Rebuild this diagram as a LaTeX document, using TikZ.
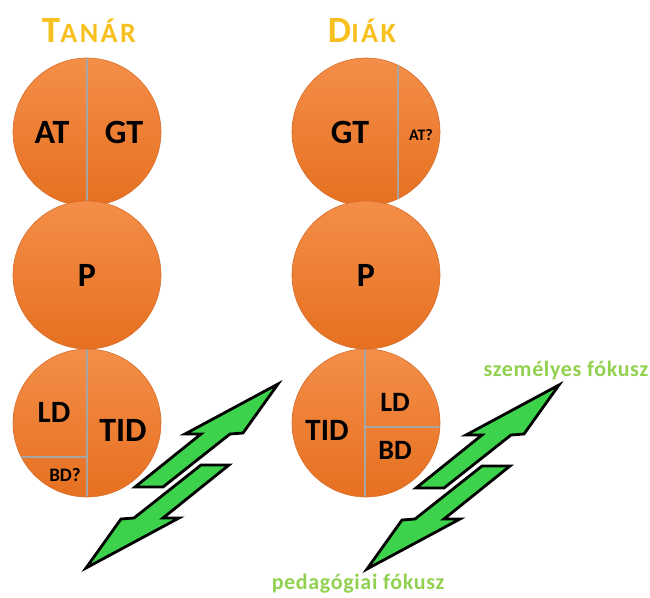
\documentclass[tikz,border=0pt]{standalone}
\usepackage{fontspec}
\setmainfont{Carlito}
\newfontfamily\titlefont[LetterSpace=9]{Carlito}
\newfontfamily\focusfont[LetterSpace=3]{Carlito}
\definecolor{orTop}{RGB}{244,142,72}
\definecolor{orBot}{RGB}{230,112,32}
\definecolor{orEdge}{RGB}{215,110,45}
\definecolor{divgray}{RGB}{165,165,165}
\definecolor{titlegold}{RGB}{247,192,30}
\definecolor{focusgreen}{RGB}{146,208,80}
\definecolor{arrgreen}{RGB}{60,210,75}
\begin{document}
\begin{tikzpicture}[x=1pt,y=-1pt,
  circ/.style={circle, minimum size=148pt, inner sep=0pt, top color=orTop, bottom color=orBot, draw=orEdge, line width=0.6pt},
  divider/.style={draw=divgray, line width=2.5pt},
  lbl/.style={inner sep=0pt, text=black, font=\fontsize{#1}{#1}\selectfont\bfseries},
  lbl/.default=34,
  title/.style={inner sep=0pt, text=titlegold, font=\titlefont\bfseries},
  focus/.style={inner sep=0pt, text=focusgreen, font=\focusfont\fontsize{22}{22}\selectfont\bfseries},
  zarrow/.style={fill=arrgreen, draw=black, line width=2.8pt, line join=miter},
  zigarrow/.pic={
    \draw[zarrow] (96,-92) -- (61,-43) -- (48,-42) -- (-19,11) -- (-47,11) -- (19,-42) -- (3,-42) -- cycle;
  }]
\useasboundingbox (0,0) rectangle (650,597);

% titles
\node[title] (tanar) at (89,31) {\fontsize{37}{37}\selectfont T\fontsize{28}{28}\selectfont ANÁR};
\node[title] (diak) at (362,31) {\fontsize{37}{37}\selectfont D\fontsize{28}{28}\selectfont IÁK};

% left column
\node[circ, path picture={\draw[divider] (path picture bounding box.north) -- (path picture bounding box.south);}] (t1) at (87,132) {};
\node[circ] (t2) at (87,275) {};
\node[circ, path picture={
   \draw[divider] (path picture bounding box.north) -- (path picture bounding box.south);
   \draw[divider] ([yshift=-34pt]path picture bounding box.west) -- ([yshift=-34pt]path picture bounding box.center);}] (t3) at (87,423) {};

% right column
\node[circ, path picture={\draw[divider] ([xshift=32pt]path picture bounding box.north) -- ([xshift=32pt]path picture bounding box.south);}] (d1) at (366,132) {};
\node[circ] (d2) at (366,275) {};
\node[circ, path picture={
   \draw[divider] ([xshift=-1pt]path picture bounding box.north) -- ([xshift=-1pt]path picture bounding box.south);
   \draw[divider] ([xshift=-1pt,yshift=-4pt]path picture bounding box.center) -- ([yshift=-4pt]path picture bounding box.east);}] (d3) at (366,423) {};

% labels
\node[lbl] (tAT) at (52,132) {AT};
\node[lbl] (tGT) at (124,132) {GT};
\node[lbl] (tP) at (87,275) {P};
\node[lbl=31] (tLD) at (54,412) {LD};
\node[lbl] (tTID) at (123,430) {TID};
\node[lbl=19] (tBD) at (65,475) {BD?};

\node[lbl] (dGT) at (350,132) {GT};
\node[lbl=16] (dAT) at (421,135) {AT?};
\node[lbl] (dP) at (366,275) {P};
\node[lbl=31] (dTID) at (327,430) {TID};
\node[lbl=28] (dLD) at (395,402) {LD};
\node[lbl=28] (dBD) at (395,450) {BD};

% arrows
\pic at (182,476) {zigarrow};
\pic[rotate=180] at (182,476) {zigarrow};
\pic at (463,477) {zigarrow};
\pic[rotate=180] at (463,477) {zigarrow};

% focus labels
\node[focus] (szem) at (566,371) {személyes fókusz};
\node[focus] (peda) at (358,584) {pedagógiai fókusz};
\end{tikzpicture}
\end{document}
